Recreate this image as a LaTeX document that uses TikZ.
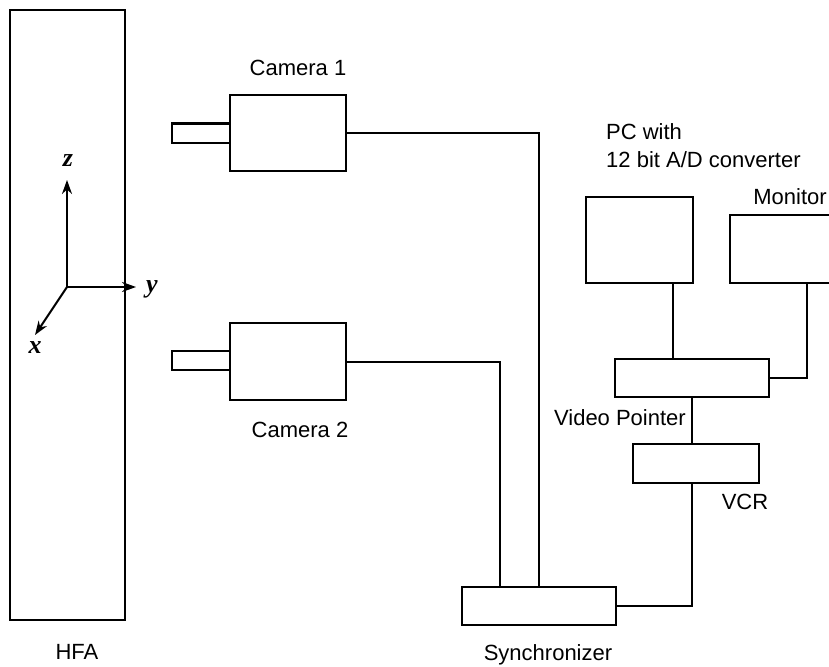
\documentclass[tikz,border=0pt]{standalone}
\usepackage{fontspec}
\setmainfont{Liberation Sans}
\newfontfamily\axfont{Liberation Serif}
\usepackage{tikz}
\usetikzlibrary{positioning, arrows.meta}

\begin{document}
\begin{tikzpicture}[x=1pt, y=-1pt, font=\fontsize{22}{28}\selectfont]
  \tikzset{
    box/.style={draw=black, line width=2pt, inner sep=0pt, outer sep=0pt},
    wire/.style={draw=black, line width=2pt},
    axis/.style={draw=black, line width=2pt, -{Stealth[length=14pt, width=10pt]}},
    axlbl/.style={font=\fontsize{26}{26}\selectfont\axfont\bfseries\itshape},
    lbl/.style={align=left, inner sep=0pt}}

  \useasboundingbox (0,0) rectangle (829,666);

  % --- the HFA with its frame of axes
  \node[box, minimum width=115pt, minimum height=610pt] (hfa) at (67.5,315) {};
  \node[lbl] (hfalbl) at (77,652) {HFA};

  \coordinate (origin) at (67,287);
  \coordinate (ztip) at (67,180);
  \coordinate (ytip) at (136,287);
  \coordinate (xtip) at (35,335);
  \draw[axis] (origin) -- (ztip);
  \draw[axis] (origin) -- (ytip);
  \draw[axis] (origin) -- (xtip);
  \node[axlbl] (zlbl) at (68,161) {z};
  \node[axlbl] (ylbl) at (152,289) {y};
  \node[axlbl] (xlbl) at (35,348) {x};

  % --- the two cameras
  \node[box, minimum width=116pt, minimum height=76pt] (cam1) at (288,133) {};
  \node[box, anchor=east, minimum width=58pt, minimum height=19pt] (lens1) at (cam1.west) {};
  \node[lbl] (cam1lbl) at (298,68) {Camera 1};

  \node[box, minimum width=116pt, minimum height=77pt] (cam2) at (288,361.5) {};
  \node[box, anchor=east, minimum width=58pt, minimum height=19pt] (lens2) at ([yshift=1.5pt]cam2.west) {};
  \node[lbl] (cam2lbl) at (300,430) {Camera 2};

  % --- synchronizer, recorder and computer
  \node[box, minimum width=154pt, minimum height=38pt] (sync) at (539,606) {};
  \node[lbl] (synclbl) at (548,655) {Synchronizer};

  \node[box, minimum width=154pt, minimum height=38pt] (vp) at (692,378) {};
  \node[lbl, anchor=east] (vplbl) at (686,418) {Video Pointer};

  \node[box, minimum width=126pt, minimum height=39pt] (vcr) at (696,463.5) {};
  \node[lbl] (vcrlbl) at (745,502) {VCR};

  \node[box, minimum width=107pt, minimum height=86pt] (pc) at (639.5,240) {};
  \node[lbl, anchor=west] (pclbl) at (606,146) {PC with\\12 bit A/D converter};

  \node[box, minimum width=120pt, minimum height=68pt] (mon) at (790,249) {};
  \node[lbl] (monlbl) at (790,197) {Monitor};

  % --- cables
  \draw[wire] (cam1.east) -| (sync.north);
  \draw[wire] (cam2.east) -| ([xshift=-39pt]sync.north);
  \draw[wire] (sync.east) -| (vcr.south -| vp.south);
  \draw[wire] (vp.south) -- (vcr.north -| vp.south);
  \draw[wire] ([xshift=33.5pt]pc.south) -- ([xshift=33.5pt]pc.south |- vp.north);
  \draw[wire] ([xshift=17pt]mon.south) |- (vp.east);
\end{tikzpicture}
\end{document}
